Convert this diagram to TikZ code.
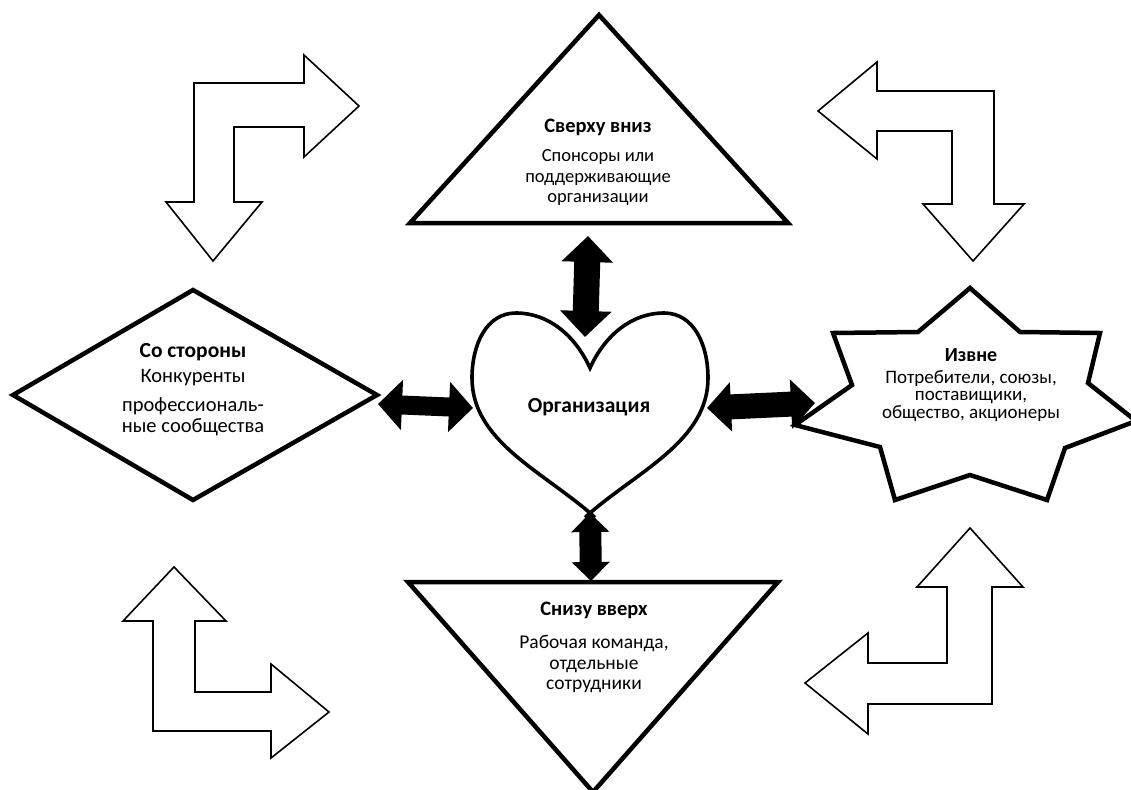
\documentclass[tikz,border=0pt]{standalone}
\usepackage{fontspec}
\setmainfont{Carlito}
\usetikzlibrary{arrows.meta}
\tikzset{
  shapeline/.style={draw=black, line width=4.5pt, fill=white, line join=miter, miter limit=20},
  heartline/.style={draw=black, line width=3.6pt, fill=white, line join=miter, miter limit=20},
  bentarrow/.style={draw=black, line width=1.6pt, fill=white, line join=miter, miter limit=20},
  ttl/.style={font=\bfseries\fontsize{#1}{22}\selectfont, align=center, inner sep=0pt},
  ttl/.default=21,
  bodytxt/.style={font=\fontsize{#1}{20.5}\selectfont, align=center, inner sep=0pt},
  bodytxt/.default=20,
  smallttl/.style={font=\bfseries\fontsize{20}{20}\selectfont, align=center, inner sep=0pt},
  smallbody/.style={font=\fontsize{19}{17.6}\selectfont, align=center, inner sep=0pt},
  dblarrow/.style args={#1/#2/#3}{draw=black, line width=#1pt,
     {Triangle[width=#2pt,length=#3pt]}-{Triangle[width=#2pt,length=#3pt]}}
}
\begin{document}
\begin{tikzpicture}[x=1pt,y=-1pt]
\useasboundingbox (0,0) rectangle (1131,789);

% bent arrows
\draw[bentarrow] (194,202) -- (166,202) -- (213,261) -- (262,202) -- (234,202) -- (234,127)
  -- (304,127) -- (304,157) -- (359,106) -- (304,55) -- (304,83) -- (194,83) -- cycle;
\draw[bentarrow] (877,91) -- (994,91) -- (994,204) -- (1024,204) -- (973,261) -- (923,204)
  -- (952,204) -- (952,131) -- (877,131) -- (877,159) -- (818,111) -- (877,62) -- cycle;
\draw[bentarrow] (153,621) -- (123,621) -- (174,567) -- (226,621) -- (195,621) -- (195,692)
  -- (271,692) -- (271,664) -- (329,712) -- (271,758) -- (271,731) -- (153,731) -- cycle;
\draw[bentarrow] (947,587) -- (917,587) -- (970,528) -- (1023,587) -- (992,587) -- (992,704)
  -- (868,704) -- (868,734) -- (805,683) -- (868,633) -- (868,663) -- (947,663) -- cycle;

% top triangle
\draw[shapeline] (599,15) -- (788,223) -- (410,223) -- cycle;
\node[ttl=20.5] (toptitle) at (598,127) {Сверху вниз};
\node[bodytxt=18.5] (topbody) at (598,178) {Спонсоры или\\поддерживающие\\организации};

% bottom triangle
\draw[shapeline] (408,582) -- (778,582) -- (593,792) -- cycle;
\node[ttl=20.5] (bottitle) at (594,610) {Снизу вверх};
\node[bodytxt=19.5] (botbody) at (594,664) {Рабочая команда,\\отдельные\\сотрудники};

% diamond
\draw[shapeline] (13,395) -- (193,290) -- (377,395) -- (193,500) -- cycle;
\node[ttl=21.5] (ltitle) at (193,352) {Со стороны};
\node[bodytxt=20.5] (lbody1) at (193,378) {Конкуренты};
\node[bodytxt=20.5] (lbody2) at (193,417) {профессиональ-\\ные сообщества};

% star
\draw[shapeline] (795,425) -- (852,385) -- (833,333) -- (918,332) -- (970,288) -- (1020,332)
  -- (1100,333) -- (1088,383) -- (1136,421) -- (1065,448) -- (1047,500) -- (970,475)
  -- (895,500) -- (880,447) -- cycle;
\node[smallttl] (rtitle) at (971,355) {Извне};
\node[smallbody] (rbody) at (971,396) {Потребители, союзы,\\поставищики,\\общество, акционеры};

% heart
\draw[heartline] (590,368) .. controls (575,335) and (548,313) .. (516,313)
  .. controls (486,313) and (472,345) .. (472,378)
  .. controls (472,440) and (540,470) .. (590,513)
  .. controls (640,470) and (708,440) .. (708,378)
  .. controls (708,345) and (694,313) .. (664,313)
  .. controls (632,313) and (605,335) .. (590,368) -- cycle;
\draw[line width=3.6pt] (590,513) -- (595,517.5) (590,513) -- (585,517.5);
\node[ttl=21.5] (org) at (589,407) {Организация};

% connector end points
\coordinate (tt) at (588,236);
\coordinate (hn) at (585,337);
\coordinate (ht) at (590,513);
\coordinate (bt) at (591,581);
\coordinate (dr) at (378,404);
\coordinate (hl) at (473,408);
\coordinate (hr) at (707,408);
\coordinate (sl) at (815,403);

% double arrows
\draw[dblarrow=26/50/26] (tt) -- (hn);
\draw[dblarrow=22/37/19] (ht) -- (bt);
\draw[dblarrow=19/49/24] (dr) -- (hl);
\draw[dblarrow=25/48/24] (hr) -- (sl);
\end{tikzpicture}
\end{document}
